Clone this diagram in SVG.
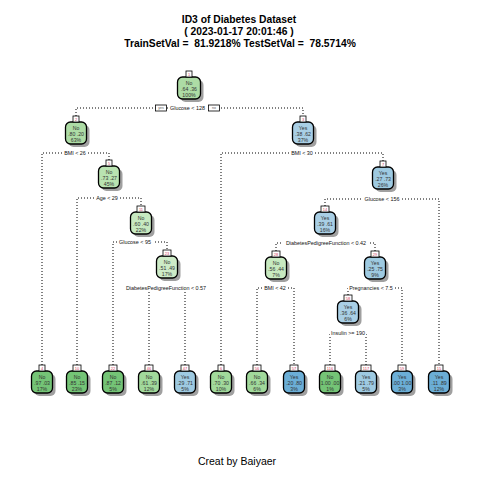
<svg xmlns="http://www.w3.org/2000/svg" width="480" height="480" viewBox="0 0 480 480">
<style>
.bg{fill:#fff}
.sh{fill:#a0a0a0}
.box{stroke:#000;stroke-width:1.3}
.tab{fill:#fff;stroke:#000;stroke-width:0.8}
.num{font-family:"Liberation Sans",Arial,sans-serif;font-size:4px;fill:#d04060;text-anchor:middle}
.nt{font-family:"Liberation Sans",Arial,sans-serif;font-size:5.2px;fill:#333;text-anchor:middle}
.lbl{font-family:"Liberation Sans",Arial,sans-serif;font-size:5.4px;fill:#111;text-anchor:middle}
.lb{fill:#fff}
.yn{fill:#fff;stroke:#000;stroke-width:0.8}
.ynt{font-family:"Liberation Sans",Arial,sans-serif;font-size:3.5px;fill:#555;text-anchor:middle}
.con{stroke:#000;stroke-width:1;stroke-dasharray:1 2;fill:none}
.title{font-family:"Liberation Sans",Arial,sans-serif;font-size:10.3px;font-weight:bold;fill:#000;text-anchor:middle}
.foot{font-family:"Liberation Sans",Arial,sans-serif;font-size:10.5px;fill:#000;text-anchor:middle}
.g1{fill:#74c476}.g2{fill:#a1d99b}.g3{fill:#addca5}.g4{fill:#b9e3b1}.g5{fill:#c7e9c0}.g6{fill:#cdebc7}
.b1{fill:#6baed6}.b2{fill:#9ecae1}.b3{fill:#a9cfe5}
</style>
<rect class="bg" x="0" y="0" width="480" height="480"/>
<g id="title">
<text class="title" x="239" y="23">ID3 of Diabetes Dataset</text>
<text class="title" x="239" y="34.5">( 2023-01-17 20:01:46 )</text>
<text class="title" x="240" y="46.5" xml:space="preserve">TrainSetVal =  81.9218% TestSetVal =  78.5714%</text>
</g>
<g id="connectors">
<path class="con" d="M76,116 V108 H303 V116"/>
<path class="con" d="M42,365 V153 H109 V160"/>
<path class="con" d="M221,365 V153 H383 V161"/>
<path class="con" d="M77,365 V198 H141 V206"/>
<path class="con" d="M325,206 V199 H439 V365"/>
<path class="con" d="M113,365 V242 H167 V250"/>
<path class="con" d="M276,251 V243 H375 V251"/>
<path class="con" d="M149,365 V288 H185 V365"/>
<path class="con" d="M257,365 V288 H294 V365"/>
<path class="con" d="M348,295 V288 H402 V365"/>
<path class="con" d="M330,365 V333 H366 V365"/>
</g>
<g id="labels">
<rect class="lb" x="168" y="105" width="39" height="6"/><text class="lbl" x="187.5" y="110">Glucose &lt; 128</text>
<rect class="yn" x="155.5" y="105" width="11" height="6"/><text class="ynt" x="161" y="109.3">yes</text>
<rect class="yn" x="208.5" y="105" width="11" height="6"/><text class="ynt" x="214" y="109.3">no</text>
<rect class="lb" x="62" y="150" width="26" height="6"/><text class="lbl" x="75" y="155">BMI &lt; 26</text>
<rect class="lb" x="289" y="150" width="26" height="6"/><text class="lbl" x="302" y="155">BMI &lt; 30</text>
<rect class="lb" x="94" y="195" width="26" height="6"/><text class="lbl" x="107" y="200">Age &lt; 29</text>
<rect class="lb" x="362" y="196" width="40" height="6"/><text class="lbl" x="382" y="201">Glucose &lt; 156</text>
<rect class="lb" x="117" y="239" width="36" height="6"/><text class="lbl" x="135" y="244">Glucose &lt; 95</text>
<rect class="lb" x="283" y="240" width="86" height="6"/><text class="lbl" x="326" y="245">DiabetesPedigreeFunction &lt; 0.42</text>
<rect class="lb" x="123" y="285" width="86" height="6"/><text class="lbl" x="166" y="290">DiabetesPedigreeFunction &lt; 0.57</text>
<rect class="lb" x="262" y="285" width="26" height="6"/><text class="lbl" x="275" y="290">BMI &lt; 42</text>
<rect class="lb" x="348" y="285" width="46" height="6"/><text class="lbl" x="371" y="290">Pregnancies &lt; 7.5</text>
<rect class="lb" x="330" y="330" width="36" height="6"/><text class="lbl" x="348" y="335">Insulin &gt;= 190</text>
</g>
<g id="n1" transform="translate(189,77)"><rect class="sh" x="-8.5" y="3" width="23" height="22" rx="5"/><rect class="box g3" x="-11.5" y="0" width="23" height="22" rx="5"/><rect class="tab" x="-3" y="-6" width="6" height="6"/><text class="num" y="-1.5">1</text><text class="nt" y="7.5">No</text><text class="nt" y="14">.64 .36</text><text class="nt" y="20">100%</text></g>
<g id="n2" transform="translate(76,122)"><rect class="sh" x="-7.5" y="3" width="21" height="22" rx="5"/><rect class="box g3" x="-10.5" y="0" width="21" height="22" rx="5"/><rect class="tab" x="-3" y="-6" width="6" height="6"/><text class="num" y="-1.5">2</text><text class="nt" y="7.5">No</text><text class="nt" y="14">.80 .20</text><text class="nt" y="20">63%</text></g>
<g id="n3" transform="translate(303,122)"><rect class="sh" x="-7.5" y="3" width="21" height="22" rx="5"/><rect class="box b3" x="-10.5" y="0" width="21" height="22" rx="5"/><rect class="tab" x="-3" y="-6" width="6" height="6"/><text class="num" y="-1.5">3</text><text class="nt" y="7.5">Yes</text><text class="nt" y="14">.38 .62</text><text class="nt" y="20">37%</text></g>
<g id="n5" transform="translate(109,166)"><rect class="sh" x="-7.5" y="3" width="21" height="22" rx="5"/><rect class="box g4" x="-10.5" y="0" width="21" height="22" rx="5"/><rect class="tab" x="-3" y="-6" width="6" height="6"/><text class="num" y="-1.5">5</text><text class="nt" y="7.5">No</text><text class="nt" y="14">.73 .27</text><text class="nt" y="20">45%</text></g>
<g id="n7" transform="translate(383,167)"><rect class="sh" x="-7.5" y="3" width="21" height="22" rx="5"/><rect class="box b2" x="-10.5" y="0" width="21" height="22" rx="5"/><rect class="tab" x="-3" y="-6" width="6" height="6"/><text class="num" y="-1.5">7</text><text class="nt" y="7.5">Yes</text><text class="nt" y="14">.27 .73</text><text class="nt" y="20">26%</text></g>
<g id="n11" transform="translate(141,212)"><rect class="sh" x="-7.5" y="3" width="21" height="22" rx="5"/><rect class="box g5" x="-10.5" y="0" width="21" height="22" rx="5"/><rect class="tab" x="-4" y="-6" width="8" height="6"/><text class="num" y="-1.5">11</text><text class="nt" y="7.5">No</text><text class="nt" y="14">.60 .40</text><text class="nt" y="20">22%</text></g>
<g id="n14" transform="translate(325,212)"><rect class="sh" x="-7.5" y="3" width="21" height="22" rx="5"/><rect class="box b3" x="-10.5" y="0" width="21" height="22" rx="5"/><rect class="tab" x="-4" y="-6" width="8" height="6"/><text class="num" y="-1.5">14</text><text class="nt" y="7.5">Yes</text><text class="nt" y="14">.39 .61</text><text class="nt" y="20">16%</text></g>
<g id="n23" transform="translate(167,256)"><rect class="sh" x="-7.5" y="3" width="21" height="22" rx="5"/><rect class="box g6" x="-10.5" y="0" width="21" height="22" rx="5"/><rect class="tab" x="-4" y="-6" width="8" height="6"/><text class="num" y="-1.5">23</text><text class="nt" y="7.5">No</text><text class="nt" y="14">.51 .49</text><text class="nt" y="20">17%</text></g>
<g id="n28" transform="translate(276,257)"><rect class="sh" x="-7.5" y="3" width="21" height="22" rx="5"/><rect class="box g5" x="-10.5" y="0" width="21" height="22" rx="5"/><rect class="tab" x="-4" y="-6" width="8" height="6"/><text class="num" y="-1.5">28</text><text class="nt" y="7.5">No</text><text class="nt" y="14">.56 .44</text><text class="nt" y="20">7%</text></g>
<g id="n29" transform="translate(375,257)"><rect class="sh" x="-7.5" y="3" width="21" height="22" rx="5"/><rect class="box b2" x="-10.5" y="0" width="21" height="22" rx="5"/><rect class="tab" x="-4" y="-6" width="8" height="6"/><text class="num" y="-1.5">29</text><text class="nt" y="7.5">Yes</text><text class="nt" y="14">.25 .75</text><text class="nt" y="20">9%</text></g>
<g id="n58" transform="translate(348,301)"><rect class="sh" x="-7.5" y="3" width="21" height="22" rx="5"/><rect class="box b3" x="-10.5" y="0" width="21" height="22" rx="5"/><rect class="tab" x="-4" y="-6" width="8" height="6"/><text class="num" y="-1.5">58</text><text class="nt" y="7.5">Yes</text><text class="nt" y="14">.36 .64</text><text class="nt" y="20">6%</text></g>
<g id="n4" transform="translate(42,371)"><rect class="sh" x="-7.5" y="3" width="21" height="22" rx="5"/><rect class="box g1" x="-10.5" y="0" width="21" height="22" rx="5"/><rect class="tab" x="-3" y="-6" width="6" height="6"/><text class="num" y="-1.5">4</text><text class="nt" y="7.5">No</text><text class="nt" y="14">.97 .03</text><text class="nt" y="20">17%</text></g>
<g id="n10" transform="translate(77,371)"><rect class="sh" x="-7.5" y="3" width="21" height="22" rx="5"/><rect class="box g1" x="-10.5" y="0" width="21" height="22" rx="5"/><rect class="tab" x="-4" y="-6" width="8" height="6"/><text class="num" y="-1.5">10</text><text class="nt" y="7.5">No</text><text class="nt" y="14">.85 .15</text><text class="nt" y="20">23%</text></g>
<g id="n22" transform="translate(113,371)"><rect class="sh" x="-7.5" y="3" width="21" height="22" rx="5"/><rect class="box g1" x="-10.5" y="0" width="21" height="22" rx="5"/><rect class="tab" x="-4" y="-6" width="8" height="6"/><text class="num" y="-1.5">22</text><text class="nt" y="7.5">No</text><text class="nt" y="14">.87 .12</text><text class="nt" y="20">5%</text></g>
<g id="n46" transform="translate(149,371)"><rect class="sh" x="-7.5" y="3" width="21" height="22" rx="5"/><rect class="box g2" x="-10.5" y="0" width="21" height="22" rx="5"/><rect class="tab" x="-4" y="-6" width="8" height="6"/><text class="num" y="-1.5">46</text><text class="nt" y="7.5">No</text><text class="nt" y="14">.61 .39</text><text class="nt" y="20">12%</text></g>
<g id="n47" transform="translate(185,371)"><rect class="sh" x="-7.5" y="3" width="21" height="22" rx="5"/><rect class="box b2" x="-10.5" y="0" width="21" height="22" rx="5"/><rect class="tab" x="-4" y="-6" width="8" height="6"/><text class="num" y="-1.5">47</text><text class="nt" y="7.5">Yes</text><text class="nt" y="14">.29 .71</text><text class="nt" y="20">5%</text></g>
<g id="n6" transform="translate(221,371)"><rect class="sh" x="-7.5" y="3" width="21" height="22" rx="5"/><rect class="box g2" x="-10.5" y="0" width="21" height="22" rx="5"/><rect class="tab" x="-3" y="-6" width="6" height="6"/><text class="num" y="-1.5">6</text><text class="nt" y="7.5">No</text><text class="nt" y="14">.70 .30</text><text class="nt" y="20">10%</text></g>
<g id="n56" transform="translate(257,371)"><rect class="sh" x="-7.5" y="3" width="21" height="22" rx="5"/><rect class="box g2" x="-10.5" y="0" width="21" height="22" rx="5"/><rect class="tab" x="-4" y="-6" width="8" height="6"/><text class="num" y="-1.5">56</text><text class="nt" y="7.5">No</text><text class="nt" y="14">.66 .34</text><text class="nt" y="20">6%</text></g>
<g id="n57" transform="translate(294,371)"><rect class="sh" x="-7.5" y="3" width="21" height="22" rx="5"/><rect class="box b1" x="-10.5" y="0" width="21" height="22" rx="5"/><rect class="tab" x="-4" y="-6" width="8" height="6"/><text class="num" y="-1.5">57</text><text class="nt" y="7.5">Yes</text><text class="nt" y="14">.20 .80</text><text class="nt" y="20">3%</text></g>
<g id="n116" transform="translate(330,371)"><rect class="sh" x="-7.5" y="3" width="21" height="22" rx="5"/><rect class="box g1" x="-10.5" y="0" width="21" height="22" rx="5"/><rect class="tab" x="-5" y="-6" width="10" height="6"/><text class="num" y="-1.5">116</text><text class="nt" y="7.5">No</text><text class="nt" y="14">1.00 .00</text><text class="nt" y="20">1%</text></g>
<g id="n117" transform="translate(366,371)"><rect class="sh" x="-7.5" y="3" width="21" height="22" rx="5"/><rect class="box b2" x="-10.5" y="0" width="21" height="22" rx="5"/><rect class="tab" x="-5" y="-6" width="10" height="6"/><text class="num" y="-1.5">117</text><text class="nt" y="7.5">Yes</text><text class="nt" y="14">.21 .79</text><text class="nt" y="20">5%</text></g>
<g id="n59" transform="translate(402,371)"><rect class="sh" x="-7.5" y="3" width="21" height="22" rx="5"/><rect class="box b1" x="-10.5" y="0" width="21" height="22" rx="5"/><rect class="tab" x="-4" y="-6" width="8" height="6"/><text class="num" y="-1.5">59</text><text class="nt" y="7.5">Yes</text><text class="nt" y="14">.00 1.00</text><text class="nt" y="20">3%</text></g>
<g id="n15" transform="translate(439,371)"><rect class="sh" x="-7.5" y="3" width="21" height="22" rx="5"/><rect class="box b1" x="-10.5" y="0" width="21" height="22" rx="5"/><rect class="tab" x="-4" y="-6" width="8" height="6"/><text class="num" y="-1.5">15</text><text class="nt" y="7.5">Yes</text><text class="nt" y="14">.11 .89</text><text class="nt" y="20">12%</text></g>
<g id="footer"><text class="foot" x="237" y="465">Creat by Baiyaer</text></g>
</svg>
